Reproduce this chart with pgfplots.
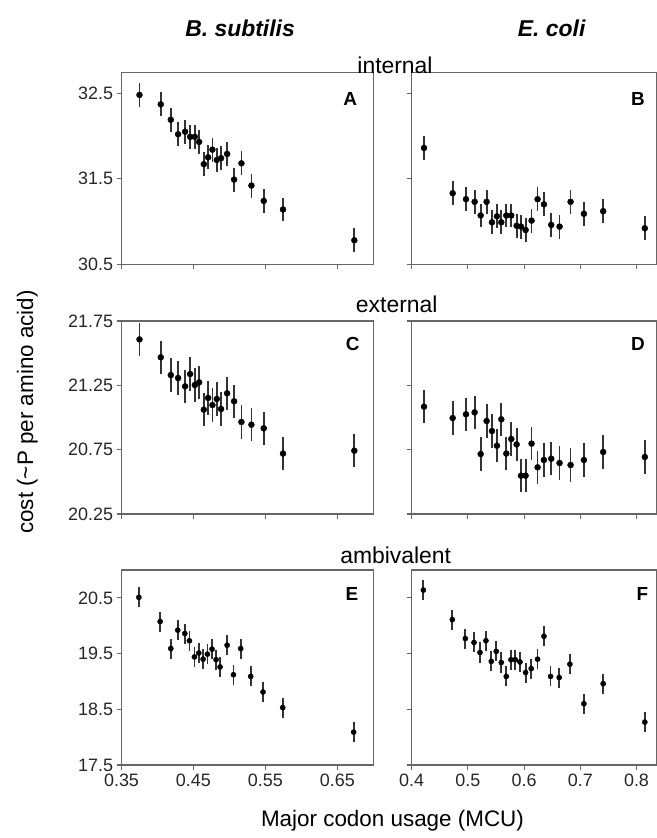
\documentclass[border=0pt]{standalone}
\usepackage{fontspec}
\setmainfont{Liberation Sans}
\usepackage{pgfplots}
\pgfplotsset{compat=1.18}
\usepackage{pgfplotstable}

% panel A: B. subtilis, internal
\pgfplotstableread{
x y
0.375 32.48
0.4046 32.37
0.4185 32.19
0.4287 32.02
0.4384 32.05
0.4454 31.99
0.4519 31.99
0.4579 31.93
0.4644 31.67
0.4704 31.75
0.4764 31.84
0.4824 31.72
0.4884 31.74
0.4968 31.79
0.5065 31.49
0.5167 31.68
0.5306 31.42
0.5477 31.24
0.5745 31.14
0.6736 30.78
}\dataA
% panel B: E. coli, internal
\pgfplotstableread{
x y
0.4219 31.86
0.4729 31.33
0.4966 31.26
0.5120 31.23
0.5227 31.07
0.5333 31.23
0.5428 30.99
0.5517 31.06
0.5594 30.99
0.5683 31.07
0.5772 31.07
0.5867 30.95
0.5944 30.94
0.6027 30.90
0.6133 31.01
0.6240 31.26
0.6353 31.20
0.6483 30.96
0.6631 30.94
0.6827 31.23
0.7064 31.09
0.7407 31.12
0.8148 30.92
}\dataB
% panel C: B. subtilis, external
\pgfplotstableread{
x y
0.375 21.607
0.4046 21.468
0.4185 21.33
0.4287 21.307
0.4384 21.242
0.4454 21.338
0.4519 21.253
0.4579 21.273
0.4644 21.061
0.4704 21.152
0.4764 21.097
0.4824 21.144
0.4884 21.066
0.4968 21.188
0.5065 21.126
0.5167 20.965
0.5306 20.944
0.5477 20.916
0.5745 20.72
0.6736 20.742
}\dataC
% panel D: E. coli, external
\pgfplotstableread{
x y
0.4219 21.084
0.4729 20.996
0.4966 21.025
0.5120 21.04
0.5227 20.716
0.5333 20.973
0.5428 20.895
0.5517 20.781
0.5594 20.986
0.5683 20.72
0.5772 20.833
0.5867 20.791
0.5944 20.548
0.6027 20.548
0.6133 20.797
0.6240 20.613
0.6353 20.67
0.6483 20.68
0.6631 20.646
0.6827 20.631
0.7064 20.67
0.7407 20.732
0.8148 20.693
}\dataD
% panel E: B. subtilis, ambivalent
\pgfplotstableread{
x y
0.3741 20.51
0.4037 20.075
0.4185 19.59
0.4282 19.92
0.4380 19.86
0.4444 19.73
0.4514 19.44
0.4574 19.51
0.4634 19.40
0.4694 19.49
0.4759 19.58
0.4815 19.39
0.4870 19.26
0.4968 19.65
0.5056 19.12
0.5157 19.59
0.5296 19.09
0.5467 18.81
0.5741 18.53
0.6727 18.09
}\dataE
% panel F: E. coli, ambivalent
\pgfplotstableread{
x y
0.4207 20.64
0.4723 20.11
0.4954 19.77
0.5108 19.70
0.5215 19.52
0.5321 19.73
0.5416 19.36
0.5505 19.54
0.5594 19.34
0.5683 19.09
0.5766 19.39
0.5843 19.39
0.5926 19.35
0.6027 19.16
0.6127 19.23
0.6240 19.40
0.6353 19.81
0.6471 19.09
0.6625 19.07
0.6815 19.31
0.7064 18.60
0.7407 18.96
0.8148 18.27
}\dataF

\pgfplotsset{
  panel/.style={
    scale only axis, anchor=north west,
    axis line style={draw=black!60, line width=1.2bp},
    every tick/.style={draw=black!60, line width=1.1bp},
    tick align=outside, major tick length=5bp,
    xtick pos=bottom, ytick pos=left,
    tick label style={font=\fontsize{18}{20}\selectfont, text=black!85},
    clip=false,
  },
  leftcol/.style={width=251.8bp, xmin=0.35, xmax=0.70,
    xtick={0.35,0.45,0.55,0.65}},
  rightcol/.style={width=245.3bp, xmin=0.4, xmax=0.8365,
    xtick={0.4,0.5,0.6,0.7,0.8}, yticklabels={}},
  pts/.style={only marks, mark=*, mark size=#1, black},
  bars/.style={error bars/.cd, y dir=both, y fixed=#1, error mark=none,
    error bar style={line width=1.8bp, black!80}},
}

\begin{document}
\begin{tikzpicture}[x=1bp,y=1bp]
\useasboundingbox (0,0) rectangle (657,-838);

% row 1: internal
\begin{axis}[panel, leftcol, at={(121.5bp,-72.7bp)}, height=191.5bp,
  ymin=30.5, ymax=32.74, ytick={30.5,31.5,32.5},
  yticklabels={30.5,31.5,32.5}, xticklabels={}]
\addplot[pts=3bp, bars=0.14] table {\dataA};
\end{axis}
\begin{axis}[panel, rightcol, at={(411.7bp,-72.7bp)}, height=191.5bp,
  ymin=30.5, ymax=32.74, ytick={30.5,31.5,32.5}, xticklabels={}]
\addplot[pts=3bp, bars=0.14] table {\dataB};
\end{axis}

% row 2: external
\begin{axis}[panel, leftcol, at={(121.5bp,-321bp)}, height=193bp,
  ymin=20.25, ymax=21.75, ytick={20.25,20.75,21.25,21.75},
  yticklabels={20.25,20.75,21.25,21.75}, xticklabels={}]
\addplot[pts=3bp, bars=0.13] table {\dataC};
\end{axis}
\begin{axis}[panel, rightcol, at={(411.7bp,-321bp)}, height=193bp,
  ymin=20.25, ymax=21.75, ytick={20.25,20.75,21.25,21.75}, xticklabels={}]
\addplot[pts=3bp, bars=0.13] table {\dataD};
\end{axis}

% row 3: ambivalent
\begin{axis}[panel, leftcol, at={(121.5bp,-570bp)}, height=195bp,
  ymin=17.5, ymax=21.0, ytick={17.5,18.5,19.5,20.5},
  yticklabels={17.5,18.5,19.5,20.5},
  xticklabels={0.35,0.45,0.55,0.65}]
\addplot[pts=2.6bp, bars=0.18] table {\dataE};
\end{axis}
\begin{axis}[panel, rightcol, at={(411.7bp,-570bp)}, height=195bp,
  ymin=17.5, ymax=21.0, ytick={17.5,18.5,19.5,20.5},
  xticklabels={0.4,0.5,0.6,0.7,0.8}]
\addplot[pts=2.6bp, bars=0.18] table {\dataF};
\end{axis}

% titles and labels
\node[anchor=base, font=\bfseries\itshape\fontsize{23}{26}\selectfont] at (240,-36.5) {B. subtilis};
\node[anchor=base, font=\bfseries\itshape\fontsize{23}{26}\selectfont] at (551.7,-36.5) {E. coli};
\node[anchor=base, font=\fontsize{23}{26}\selectfont] at (395,-73) {internal};
\node[anchor=base, font=\fontsize{23}{26}\selectfont] at (396.7,-312.7) {external};
\node[anchor=base, font=\fontsize{23}{26}\selectfont] at (395.7,-563.3) {ambivalent};
\node[anchor=base, rotate=90, font=\fontsize{22.5}{25}\selectfont] at (33,-412) {cost (\textasciitilde P per amino acid)};
\node[anchor=base, font=\fontsize{22.5}{25}\selectfont] at (392.5,-826) {Major codon usage (MCU)};

% panel letters
\node[anchor=base east, font=\bfseries\fontsize{19}{20}\selectfont] at (360.5,-105.7) {A};
\node[anchor=base east, font=\bfseries\fontsize{19}{20}\selectfont] at (648.3,-105.7) {B};
\node[anchor=base east, font=\bfseries\fontsize{19}{20}\selectfont] at (363,-350.7) {C};
\node[anchor=base east, font=\bfseries\fontsize{19}{20}\selectfont] at (648.3,-350.7) {D};
\node[anchor=base east, font=\bfseries\fontsize{19}{20}\selectfont] at (361.7,-600.7) {E};
\node[anchor=base east, font=\bfseries\fontsize{19}{20}\selectfont] at (651.7,-600.7) {F};
\end{tikzpicture}
\end{document}
